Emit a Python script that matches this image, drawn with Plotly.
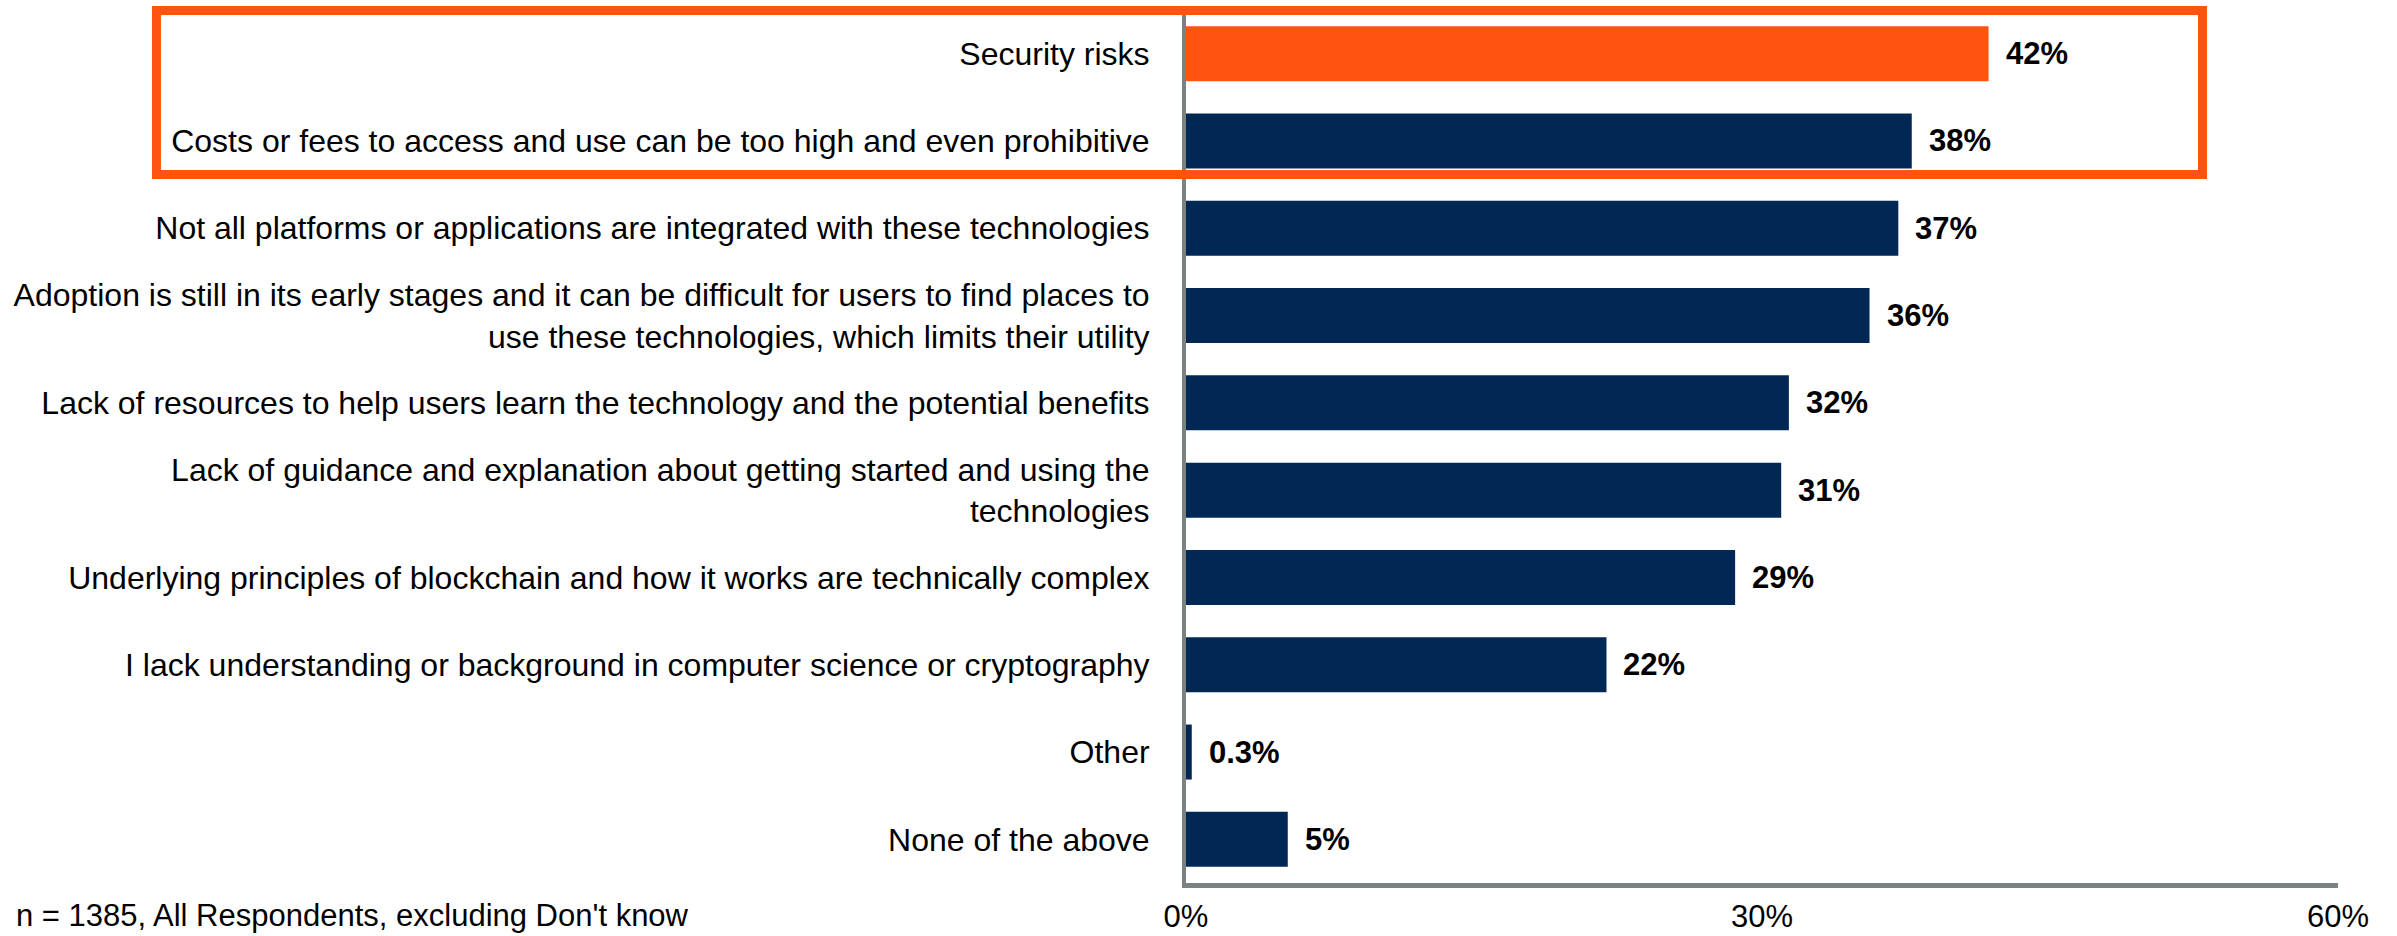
import plotly.graph_objects as go

categories = [
    "Security risks",
    "Costs or fees to access and use can be too high and even prohibitive",
    "Not all platforms or applications are integrated with these technologies",
    "Adoption is still in its early stages and it can be difficult for users to find places to<br>use these technologies, which limits their utility",
    "Lack of resources to help users learn the technology and the potential benefits",
    "Lack of guidance and explanation about getting started and using the<br>technologies",
    "Underlying principles of blockchain and how it works are technically complex",
    "I lack understanding or background in computer science or cryptography",
    "Other",
    "None of the above",
]
values = [41.8, 37.8, 37.1, 35.6, 31.4, 31.0, 28.6, 21.9, 0.3, 5.3]
value_labels = ["42%", "38%", "37%", "36%", "32%", "31%", "29%", "22%", "0.3%", "5%"]
tick_vals = [0, 30, 60]
tick_text = ["0%", "30%", "60%"]
footnote = "n = 1385, All Respondents, excluding Don't know"

ORANGE = "#FF540F"
NAVY = "#012855"
GRAY = "#7B8382"
FONT = "Liberation Sans, Arial, sans-serif"

colors = [ORANGE] + [NAVY] * (len(categories) - 1)

fig = go.Figure(
    go.Bar(
        x=values,
        y=categories,
        orientation="h",
        marker=dict(color=colors, line=dict(width=0)),
        hoverinfo="skip",
    )
)

for v, lab, cat in zip(values, value_labels, categories):
    fig.add_annotation(
        x=v, y=cat, text=f"<b>{lab}</b>", showarrow=False,
        xanchor="left", yanchor="middle", xshift=15,
        font=dict(family=FONT, size=31, color="#000000"),
    )

fig.add_annotation(
    x=-1.017, y=-0.037, xref="paper", yref="paper", text=footnote,
    showarrow=False, xanchor="left", yanchor="middle",
    font=dict(family=FONT, size=31, color="#000000"),
)

fig.add_shape(
    type="rect", xref="paper", yref="paper",
    x0=-0.8937, x1=0.8824, y0=0.8116, y1=0.9994,
    line=dict(color=ORANGE, width=9), fillcolor="rgba(0,0,0,0)",
)

fig.update_layout(
    width=2397, height=936,
    margin=dict(l=1186, r=59, t=10, b=53, autoexpand=False),
    paper_bgcolor="white", plot_bgcolor="white",
    bargap=0.37,
    showlegend=False,
    font=dict(family=FONT, size=31, color="#000000"),
    xaxis=dict(
        range=[0, 60], tickvals=tick_vals, ticktext=tick_text,
        showgrid=False, zeroline=False, automargin=False,
        showline=True, linecolor=GRAY, linewidth=5,
        ticks="", ticklabelstandoff=2,
        tickfont=dict(family=FONT, size=31, color="#000000"),
    ),
    yaxis=dict(
        autorange="reversed", showgrid=False, zeroline=False, automargin=False,
        showline=True, linecolor=GRAY, linewidth=4,
        ticks="", ticklabelstandoff=26,
        tickfont=dict(family=FONT, size=32, color="#000000"),
    ),
)

fig.write_html("out.html", config={"displayModeBar": False},
               post_script="document.body.style.margin='0';")
